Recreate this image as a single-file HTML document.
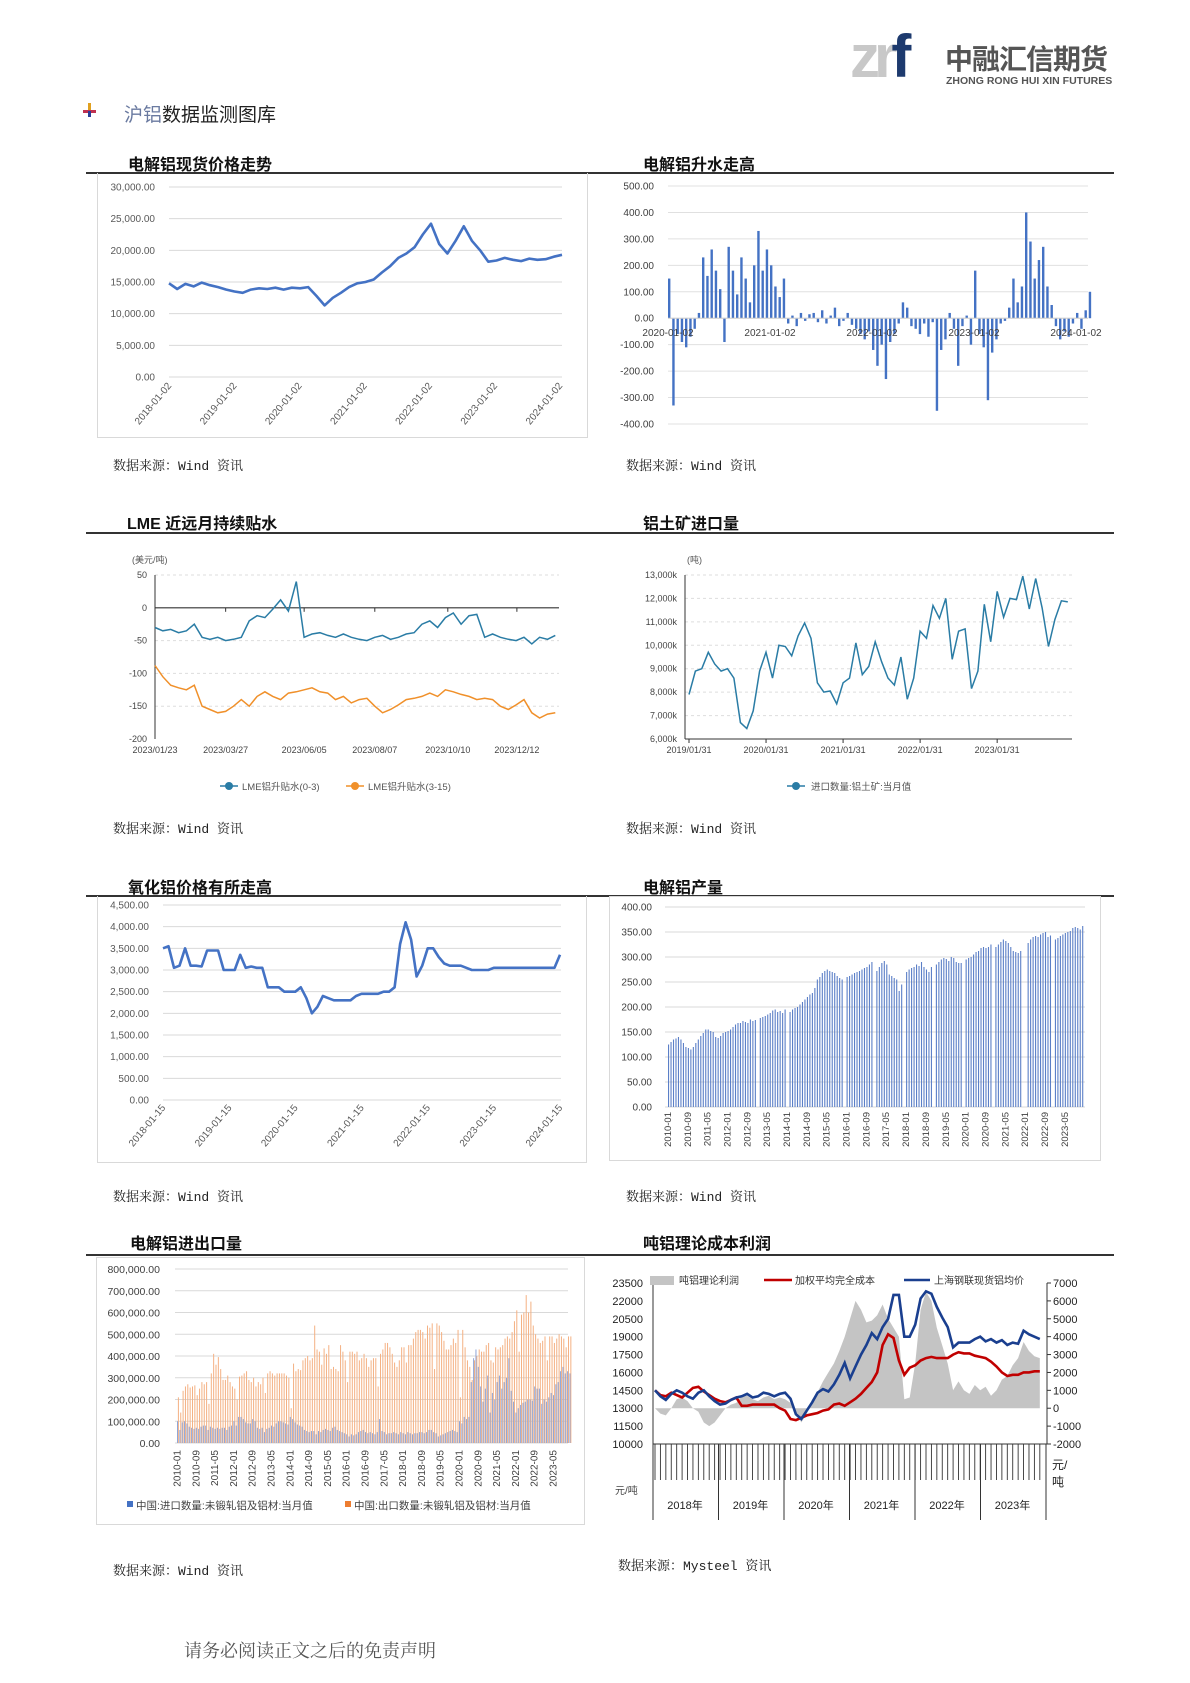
<!DOCTYPE html>
<html><head><meta charset="utf-8">
<style>
body{margin:0;background:#fff;}
#page{position:relative;width:1190px;height:1683px;overflow:hidden;background:#fff;font-family:"Liberation Sans","Noto Sans CJK SC",sans-serif;}
.t{position:absolute;white-space:nowrap;}
.title{font-size:16px;font-weight:bold;color:#111;font-family:"Liberation Sans","Noto Sans CJK SC",sans-serif;}
.src{font-size:13px;color:#222;font-family:"Liberation Mono","Noto Serif CJK SC",serif;}
.rule{position:absolute;height:1.5px;background:#333;}
.box{position:absolute;border:1px solid #d9d9d9;}
</style></head>
<body>
<div id="page">
  <div class="t" style="left:850px;top:22px;font-size:60px;font-weight:bold;letter-spacing:-6px;line-height:70px;"><span style="color:#c8c8c8">zr</span><span style="color:#1d3a6e">f</span></div>
  <div class="t" style="left:945px;top:38px;font-size:28px;font-weight:bold;color:#555;letter-spacing:-1px;font-family:'Liberation Sans','Noto Sans CJK SC',sans-serif;">中融汇信期货</div>
  <div class="t" style="left:946px;top:75px;font-size:10.5px;color:#555;font-weight:bold;">ZHONG RONG HUI XIN FUTURES</div>

  <div class="t" style="left:83px;top:103px;width:12px;height:14px;">
    <div style="position:absolute;left:5px;top:0;width:3px;height:14px;background:#e0a020"></div>
    <div style="position:absolute;left:0;top:7px;width:13px;height:3px;background:#c03050"></div>
    <div style="position:absolute;left:5px;top:8px;width:3px;height:6px;background:#2a3e9a"></div>
  </div>
  <div class="t" style="left:124px;top:100px;font-size:19px;color:#222;"><span style="color:#6a7aa0">沪铝</span>数据监测图库</div>

  <div class="t title" style="left:128px;top:151px;">电解铝现货价格走势</div>
  <div class="t title" style="left:643px;top:151px;">电解铝升水走高</div>
  <div class="rule" style="left:86px;top:172px;width:1028px;"></div>
  <div class="box" style="left:97px;top:173px;width:489px;height:264px;border-top:none;"></div>
  <div class="t src" style="left:113px;top:455px;">数据来源：Wind 资讯</div>
  <div class="t src" style="left:626px;top:455px;">数据来源：Wind 资讯</div>

  <div class="t title" style="left:127px;top:510px;">LME 近远月持续贴水</div>
  <div class="t title" style="left:643px;top:510px;">铝土矿进口量</div>
  <div class="rule" style="left:86px;top:532px;width:1028px;"></div>
  <div class="t src" style="left:113px;top:818px;">数据来源：Wind 资讯</div>
  <div class="t src" style="left:626px;top:818px;">数据来源：Wind 资讯</div>

  <div class="t title" style="left:128px;top:874px;">氧化铝价格有所走高</div>
  <div class="t title" style="left:643px;top:874px;">电解铝产量</div>
  <div class="rule" style="left:86px;top:895px;width:1028px;"></div>
  <div class="box" style="left:97px;top:896px;width:488px;height:266px;border-top:none;"></div>
  <div class="box" style="left:609px;top:896px;width:490px;height:263px;"></div>
  <div class="t src" style="left:113px;top:1186px;">数据来源：Wind 资讯</div>
  <div class="t src" style="left:626px;top:1186px;">数据来源：Wind 资讯</div>

  <div class="t title" style="left:130px;top:1230px;">电解铝进出口量</div>
  <div class="t title" style="left:643px;top:1230px;">吨铝理论成本利润</div>
  <div class="rule" style="left:86px;top:1254px;width:1028px;"></div>
  <div class="box" style="left:96px;top:1257px;width:487px;height:266px;"></div>
  <div class="t src" style="left:113px;top:1560px;">数据来源：Wind 资讯</div>
  <div class="t src" style="left:618px;top:1555px;">数据来源：Mysteel 资讯</div>

  <div class="t" style="left:184px;top:1637px;font-size:18px;color:#555;font-family:'Liberation Serif','Noto Serif CJK SC',serif;">请务必阅读正文之后的免责声明</div>

  <svg id="charts" width="1190" height="1683" style="position:absolute;left:0;top:0;" xmlns="http://www.w3.org/2000/svg"></svg>
</div>
<script>
// ---------- data ----------
const c1Dates=['2018-01-02','2019-01-02','2020-01-02','2021-01-02','2022-01-02','2023-01-02','2024-01-02'];
const c1Ticks=[0,5000,10000,15000,20000,25000,30000];
const c1Values=[14800,13900,14700,14300,14900,14500,14200,13800,13500,13300,13800,14000,13900,14100,13800,14100,14000,14200,12800,11300,12500,13300,14200,14800,15000,15400,16500,17500,18800,19500,20500,22500,24200,21000,19500,21500,23800,21500,20000,18200,18400,18800,18500,18300,18700,18500,18600,19000,19300];

const c2Dates=['2020-01-02','2021-01-02','2022-01-02','2023-01-02','2024-01-02'];
const c2Ticks=[500,400,300,200,100,0,-100,-200,-300,-400];
const c2Values=[150,-330,-60,-90,-110,-70,-40,20,230,160,260,180,110,-90,270,180,90,230,150,60,200,330,180,260,
200,120,80,150,-20,10,-30,20,-10,15,20,-15,30,-20,10,40,-30,-10,20,-25,-40,-60,-80,-50,
-120,-180,-100,-230,-90,-60,-20,60,40,-30,-40,-60,-20,-70,-15,-350,-120,-80,20,-40,-180,-30,10,-100,
180,-60,-110,-310,-130,-80,-20,-10,40,150,60,120,400,290,150,220,270,120,50,-30,-80,-50,-70,-20,
20,-40,30,100];

const c3Dates=['2023/01/23','2023/03/27','2023/06/05','2023/08/07','2023/10/10','2023/12/12'];
const c3DateWeeks=[0,9,19,28,37.3,46.1];
const c3Ticks=[50,0,-50,-100,-150,-200];
const c3Near=[-30,-35,-33,-38,-35,-25,-45,-48,-45,-50,-48,-45,-20,-12,-15,-2,12,-5,40,-45,-40,-38,-42,-45,-40,-45,-48,-50,-45,-42,-48,-45,-40,-38,-25,-20,-30,-15,-8,-25,-12,-10,-45,-40,-45,-48,-50,-45,-55,-45,-48,-42];
const c3Far=[-88,-105,-118,-122,-125,-118,-150,-155,-160,-158,-150,-140,-150,-135,-128,-135,-140,-130,-128,-125,-122,-128,-130,-140,-135,-145,-140,-138,-150,-160,-155,-148,-140,-138,-135,-130,-135,-125,-128,-132,-135,-140,-138,-140,-150,-155,-148,-140,-160,-168,-162,-160];

const c4Dates=['2019/01/31','2020/01/31','2021/01/31','2022/01/31','2023/01/31'];
const c4Ticks=[6000,7000,8000,9000,10000,11000,12000,13000];
const c4Values=[7900,8900,9000,9700,9200,8900,9000,8600,6700,6450,7200,8900,9700,8600,10000,9950,9550,10400,10950,10300,8400,8000,8050,7500,8400,8600,10100,8750,9100,10150,9300,8600,8300,9500,7700,8600,10600,10300,11700,11150,12000,9400,10600,10700,8150,8900,11750,10150,12300,11200,12000,11950,12950,11550,12850,11600,9950,11100,11900,11850];

const c5Dates=['2018-01-15','2019-01-15','2020-01-15','2021-01-15','2022-01-15','2023-01-15','2024-01-15'];
const c5Ticks=[0,500,1000,1500,2000,2500,3000,3500,4000,4500];
const c5Values=[3500,3550,3050,3100,3500,3100,3100,3080,3450,3450,3450,3000,3000,3000,3350,3050,3080,3050,3050,2600,2600,2600,2500,2500,2500,2600,2350,2000,2150,2400,2350,2300,2300,2300,2300,2400,2450,2450,2450,2450,2500,2500,2600,3600,4100,3700,2850,3100,3500,3500,3300,3150,3100,3100,3100,3050,3000,3000,3000,3000,3050,3050,3050,3050,3050,3050,3050,3050,3050,3050,3050,3050,3350];

const monthLabels=['2010-01','2010-09','2011-05','2012-01','2012-09','2013-05','2014-01','2014-09','2015-05','2016-01','2016-09','2017-05','2018-01','2018-09','2019-05','2020-01','2020-09','2021-05','2022-01','2022-09','2023-05'];
const c6Ticks=[0,50,100,150,200,250,300,350,400];
const c6Values=[125,130,135,137,140,135,128,120,118,115,120,128,
135,142,148,155,155,152,150,140,138,142,148,150,
152,155,160,165,168,168,172,170,168,175,172,174,
0,178,180,182,185,188,193,195,190,192,188,195,
0,190,195,198,200,205,210,215,220,225,228,238,
255,260,268,272,275,272,270,268,262,258,255,0,
260,262,265,268,270,272,275,278,280,285,290,0,
272,280,288,292,285,265,262,258,255,232,245,0,
270,275,278,280,285,282,290,280,275,270,280,0,
285,290,295,298,296,292,300,298,290,288,288,0,
295,298,300,305,310,312,318,320,318,320,325,0,
320,325,330,335,332,328,320,312,310,308,312,0,
0,328,335,340,342,340,345,348,350,340,343,0,
335,338,342,345,348,350,352,358,360,358,355,362];

const c7Ticks=[0,100000,200000,300000,400000,500000,600000,700000,800000];
const c7Export=[210,140,240,260,270,255,260,265,220,250,280,270,
280,180,320,410,360,395,340,290,290,310,280,260,
250,200,305,310,320,330,290,280,300,260,280,270,
300,230,320,330,320,310,320,320,320,320,310,300,
160,365,330,340,335,380,390,400,380,390,540,430,
420,360,435,410,450,340,350,340,330,450,420,380,
280,420,420,410,420,380,390,410,390,350,380,390,
390,260,410,430,460,460,440,410,370,350,380,440,
440,370,450,450,480,510,520,520,510,480,540,530,
550,340,550,540,510,470,430,430,450,480,460,520,
210,520,440,380,350,290,380,400,430,420,420,450,
460,380,370,440,430,440,450,480,490,480,510,560,
610,420,590,600,680,600,650,540,500,480,460,470,
490,380,490,490,460,480,500,490,480,440,490,490];
const c7Import=[100,60,95,100,90,75,70,65,70,65,75,80,
80,60,75,70,65,70,65,70,70,60,75,80,
100,80,120,120,110,95,90,90,110,100,70,65,
70,50,65,70,80,75,90,100,100,95,90,85,
120,110,95,85,80,75,60,55,50,55,55,40,
55,50,60,65,60,55,70,75,60,55,50,45,
40,30,40,35,40,50,55,60,50,45,50,45,
40,50,110,55,50,40,45,45,50,45,40,50,
45,40,50,45,40,45,45,50,50,45,50,60,
60,50,45,30,35,40,45,50,55,60,55,50,
100,90,120,110,120,280,390,430,350,260,190,250,
310,140,230,200,280,310,250,280,300,390,240,190,
140,160,175,185,190,200,200,195,260,250,250,180,
200,190,210,230,220,270,280,330,350,320,330,320];

const c8Years=['2018年','2019年','2020年','2021年','2022年','2023年'];
const c8LeftTicks=[10000,11500,13000,14500,16000,17500,19000,20500,22000,23500];
const c8RightTicks=[-2000,-1000,0,1000,2000,3000,4000,5000,6000,7000];
const c8Price=[14500,14000,13700,14200,14500,14300,14000,13800,14300,14500,14000,13600,
13300,13400,13700,13900,14000,14200,13900,14000,14300,14200,14000,14200,
14300,13800,12500,12100,12800,13500,14300,14600,14400,15000,15800,16800,
15500,16500,17500,18300,19300,18800,19800,20500,22500,22500,19000,19000,
20000,22200,22800,22600,21500,20600,19800,18100,18500,18500,18500,18800,
19000,18600,18800,18500,18700,18300,18500,18400,19500,19200,19000,18800];
const c8Cost=[14500,14100,14000,14300,14100,13900,14300,14700,14800,14400,14100,13800,
13600,13500,13700,13900,13200,13200,13300,13300,13300,13300,13300,13000,
12800,12100,12000,12200,12400,12500,12600,12800,12900,13300,13400,13200,
13500,13800,14200,14700,15200,16000,18300,19200,18900,17000,15800,16400,
16600,17000,17200,17300,17200,17200,17200,17500,17700,17600,17600,17400,
17300,17200,16900,16500,16000,15700,15800,15800,16000,16000,16100,16100];
const c8Profit=[0,-300,-400,0,500,600,400,0,-200,-800,-1000,-800,
-400,0,200,300,700,700,500,400,600,700,500,600,
500,300,-200,-800,-300,500,900,1500,2000,2500,3200,4000,
5000,6000,5500,4800,4900,5200,5800,5000,4500,4000,500,600,
2500,5500,6500,6000,4500,3500,2500,1000,1500,1000,800,1300,
1000,1200,700,1000,1600,1800,2400,2800,3700,3200,2900,2800];

// ---------- helpers ----------
const NS='http://www.w3.org/2000/svg';
const svg=document.getElementById('charts');
function mk(tag,attrs){const e=document.createElementNS(NS,tag);for(const k in attrs)e.setAttribute(k,attrs[k]);svg.appendChild(e);return e;}
function txt(x,y,s,attrs){const e=mk('text',Object.assign({x:x,y:y,'font-family':'Liberation Sans, Noto Sans CJK SC, sans-serif'},attrs));e.textContent=s;return e;}
function lin(d0,d1,r0,r1){return v=>r0+(v-d0)*(r1-r0)/(d1-d0);}
function fmt(v,dec){return v.toLocaleString('en-US',{minimumFractionDigits:dec,maximumFractionDigits:dec});}
function pathOf(vals,xf,yf){return vals.map((v,i)=>(i?'L':'M')+xf(i).toFixed(1)+','+yf(v).toFixed(1)).join('');}

// ---------- chart 1 ----------
{
const y=lin(0,30000,377,187), x=lin(0,c1Values.length-1,169,562), xd=lin(0,c1Dates.length-1,169,560);
c1Ticks.forEach(t=>{
  const g=mk('line',{x1:169,x2:562,y1:y(t),y2:y(t),stroke:'#d9d9d9','stroke-width':1});
  
  
  const l=txt(155,y(t)+3.5,fmt(t,2),{'font-size':10,fill:'#595959','text-anchor':'end'});
  
  
});
c1Dates.forEach((d,i)=>{
  const l=txt(xd(i)+3,386,d,{'font-size':10,fill:'#595959','text-anchor':'end',transform:'rotate(-50 '+(xd(i)+3)+' 386)'});
  
  
});
const p=mk('path',{d:pathOf(c1Values,x,y),fill:'none',stroke:'#4472c4','stroke-width':2.6,'stroke-linejoin':'round'});


}

// ---------- chart 2 ----------
{
const y=lin(-400,500,424,186), x=i=>668+i*4.25, xd=lin(0,4,668,1076);
c2Ticks.forEach(t=>{
  const g=mk('line',{x1:668,x2:1088,y1:y(t),y2:y(t),stroke:'#e0e0e0','stroke-width':1});
  
  
  const l=txt(654,y(t)+3.5,fmt(t,2),{'font-size':10,fill:'#404040','text-anchor':'end'});
  
  
});
c2Values.forEach((v,i)=>{
  const b=mk('rect',{x:x(i),y:Math.min(y(v),y(0)),width:2.4,height:Math.abs(y(v)-y(0)),fill:'#4472c4'});
  
  
});
const z=mk('line',{x1:668,x2:1088,y1:y(0),y2:y(0),stroke:'#d0d0d0','stroke-width':1});


c2Dates.forEach((d,i)=>{
  const l=txt(xd(i),336,d,{'font-size':10,fill:'#404040','text-anchor':'middle'});
  
  
});
}

// ---------- chart 3 ----------
{
const y=lin(-200,50,739,575), x=w=>155+w*7.85;
const u=txt(132,563,'(美元/吨)',{'font-size':9,fill:'#555'});


c3Ticks.forEach(t=>{
  if(t!==0&&t!==-200){const g=mk('line',{x1:155,x2:559,y1:y(t),y2:y(t),stroke:'#ddd','stroke-dasharray':'3,3'});
  
  }
  const l=txt(147,y(t)+3,String(t),{'font-size':9,fill:'#444','text-anchor':'end'});
  
  
});
const za=mk('line',{x1:155,x2:559,y1:y(0),y2:y(0),stroke:'#333','stroke-width':1.2});


const ya=mk('line',{x1:155,x2:155,y1:575,y2:739,stroke:'#333','stroke-width':1});


c3Dates.forEach((d,i)=>{
  const tk=mk('line',{x1:x(c3DateWeeks[i]),x2:x(c3DateWeeks[i]),y1:y(0),y2:y(0)+4,stroke:'#333'});
  
  
  const l=txt(x(c3DateWeeks[i]),753,d,{'font-size':9,fill:'#444','text-anchor':'middle'});
  
  
});
const p1=mk('path',{d:pathOf(c3Near,x,y),fill:'none',stroke:'#2a7ca5','stroke-width':1.5});


const p2=mk('path',{d:pathOf(c3Far,x,y),fill:'none',stroke:'#f0902a','stroke-width':1.5});


[['#2a7ca5','LME铝升贴水(0-3)',220],['#f0902a','LME铝升贴水(3-15)',346]].forEach(e=>{
  const ln=mk('line',{x1:e[2],x2:e[2]+18,y1:786,y2:786,stroke:e[0],'stroke-width':1.5});
  
  
  const c=mk('circle',{cx:e[2]+9,cy:786,r:4,fill:e[0]});
  
  
  const l=txt(e[2]+22,790,e[1],{'font-size':9.5,fill:'#555'});
  
  
});
}

// ---------- chart 4 ----------
{
const y=lin(6000,13000,739,575), x=m=>689+m*6.42;
const u=txt(687,563,'(吨)',{'font-size':9,fill:'#555'});


c4Ticks.forEach(t=>{
  if(t!==6000){const g=mk('line',{x1:685,x2:1072,y1:y(t),y2:y(t),stroke:'#ddd','stroke-dasharray':'3,3'});
  
  }
  const l=txt(677,y(t)+3,fmt(t/1000,0)+',000k',{'font-size':9,fill:'#444','text-anchor':'end'});
  
  
});
const xa=mk('line',{x1:685,x2:1072,y1:739,y2:739,stroke:'#333'});


const ya=mk('line',{x1:685,x2:685,y1:575,y2:739,stroke:'#333'});


c4Dates.forEach((d,i)=>{
  const tk=mk('line',{x1:x(i*12),x2:x(i*12),y1:739,y2:743,stroke:'#333'});
  
  
  const l=txt(x(i*12),753,d,{'font-size':9,fill:'#444','text-anchor':'middle'});
  
  
});
const p=mk('path',{d:pathOf(c4Values,x,y),fill:'none',stroke:'#2a7ca5','stroke-width':1.5});


const ln=mk('line',{x1:787,x2:805,y1:786,y2:786,stroke:'#2a7ca5','stroke-width':1.5});


const c=mk('circle',{cx:796,cy:786,r:4,fill:'#2a7ca5'});


const l=txt(811,790,'进口数量:铝土矿:当月值',{'font-size':9.5,fill:'#555'});


}

// ---------- chart 5 ----------
{
const y=lin(0,4500,1100,905), x=lin(0,c5Values.length-1,163,560), xd=lin(0,6,163,560);
c5Ticks.forEach(t=>{
  const g=mk('line',{x1:163,x2:561,y1:y(t),y2:y(t),stroke:'#d9d9d9'});
  
  
  const l=txt(149,y(t)+3.5,fmt(t,2),{'font-size':10,fill:'#595959','text-anchor':'end'});
  
  
});
c5Dates.forEach((d,i)=>{
  const l=txt(xd(i)+3,1108,d,{'font-size':10,fill:'#595959','text-anchor':'end',transform:'rotate(-50 '+(xd(i)+3)+' 1108)'});
  
  
});
const p=mk('path',{d:pathOf(c5Values,x,y),fill:'none',stroke:'#4472c4','stroke-width':2.6,'stroke-linejoin':'round'});


}

// ---------- chart 6 ----------
{
const y=lin(0,400,1107,907), x=i=>668+i*2.48;
c6Ticks.forEach(t=>{
  const g=mk('line',{x1:665,x2:1085,y1:y(t),y2:y(t),stroke:'#d9d9d9'});
  
  
  const l=txt(652,y(t)+3.5,fmt(t,2),{'font-size':10,fill:'#404040','text-anchor':'end'});
  
  
});
c6Values.forEach((v,i)=>{
  if(!v)return;
  const b=mk('rect',{x:x(i),y:y(v),width:1.1,height:y(0)-y(v),fill:'#5b7fc7'});
  
  
});
monthLabels.forEach((d,i)=>{
  const xx=x(i*8)+3;
  const l=txt(xx,1112,d,{'font-size':9.5,fill:'#404040','text-anchor':'end',transform:'rotate(-90 '+xx+' 1112)'});
  
  
});
}

// ---------- chart 7 ----------
{
const y=lin(0,800000,1443,1269), x=i=>177+i*2.35;
c7Ticks.forEach(t=>{
  const g=mk('line',{x1:175,x2:568,y1:y(t),y2:y(t),stroke:'#d9d9d9'});
  
  
  const l=txt(160,y(t)+4,fmt(t,2),{'font-size':10.5,fill:'#404040','text-anchor':'end'});
  
  
});
c7Export.forEach((v,i)=>{
  const b=mk('rect',{x:x(i)+0.9,y:y(v*1000),width:1,height:y(0)-y(v*1000),fill:'#f4b183'});
  
  
});
c7Import.forEach((v,i)=>{
  const b=mk('rect',{x:x(i),y:y(v*1000),width:1,height:y(0)-y(v*1000),fill:'#8fa6d8'});
  
  
});
monthLabels.forEach((d,i)=>{
  const xx=x(i*8)+3.5;
  const l=txt(xx,1450,d,{'font-size':10,fill:'#404040','text-anchor':'end',transform:'rotate(-90 '+xx+' 1450)'});
  
  
});
[['#4472c4','中国:进口数量:未锻轧铝及铝材:当月值',127],['#ed7d31','中国:出口数量:未锻轧铝及铝材:当月值',345]].forEach(e=>{
  const s=mk('rect',{x:e[2],y:1501,width:6,height:6,fill:e[0]});
  
  
  const l=txt(e[2]+9,1509,e[1],{'font-size':10.5,fill:'#404040'});
  
  
});
}

// ---------- chart 8 ----------
{
const yL=lin(10000,23500,1444,1283), yR=lin(-2000,7000,1444,1283), x=i=>655+i*5.42;
const area='M'+x(0)+','+yR(0)+c8Profit.map((v,i)=>'L'+x(i).toFixed(1)+','+yR(v).toFixed(1)).join('')+'L'+x(c8Profit.length-1)+','+yR(0)+'Z';
const a=mk('path',{d:area,fill:'#c4c4c4'});


c8LeftTicks.forEach(t=>{
  const l=txt(643,yL(t)+4,String(t),{'font-size':11,fill:'#222','text-anchor':'end'});
  
  
});
c8RightTicks.forEach(t=>{
  const tk=mk('line',{x1:1047,x2:1051,y1:yR(t),y2:yR(t),stroke:'#333'});
  
  
  const l=txt(1053,yR(t)+4,String(t),{'font-size':11,fill:'#222'});
  
  
});
const la=mk('line',{x1:653,x2:653,y1:1283,y2:1520,stroke:'#333'});


const ra=mk('line',{x1:1047,x2:1047,y1:1283,y2:1444,stroke:'#333'});


const xa=mk('line',{x1:653,x2:1047,y1:1444,y2:1444,stroke:'#333'});


c8Price.forEach((v,i)=>{
  const tk=mk('line',{x1:x(i),x2:x(i),y1:1444,y2:1480,stroke:'#333','stroke-width':0.9});
  
  
});
c8Years.forEach((d,i)=>{
  const sx=653+i*65.5;
  const s=mk('line',{x1:sx+65.5,x2:sx+65.5,y1:1444,y2:1520,stroke:'#333'});
  
  
  const l=txt(sx+32,1509,d,{'font-size':11,fill:'#222','text-anchor':'middle'});
  
  
});
const p1=mk('path',{d:pathOf(c8Cost,x,yL),fill:'none',stroke:'#c00000','stroke-width':2.6});


const p2=mk('path',{d:pathOf(c8Price,x,yL),fill:'none',stroke:'#1a3f8f','stroke-width':2.6});


const u1=txt(615,1494,'元/吨',{'font-size':10,fill:'#444'});


const u2=txt(1052,1469,'元/',{'font-size':12,fill:'#222'});


const u3=txt(1052,1486,'吨',{'font-size':12,fill:'#222'});


const lg1=mk('rect',{x:650,y:1276,width:24,height:9,fill:'#c4c4c4'});


const lt1=txt(679,1284,'吨铝理论利润',{'font-size':10,fill:'#333'});


const lg2=mk('line',{x1:764,x2:792,y1:1280,y2:1280,stroke:'#c00000','stroke-width':2.5});


const lt2=txt(795,1284,'加权平均完全成本',{'font-size':10,fill:'#333'});


const lg3=mk('line',{x1:904,x2:930,y1:1280,y2:1280,stroke:'#1a3f8f','stroke-width':2.5});


const lt3=txt(934,1284,'上海钢联现货铝均价',{'font-size':10,fill:'#333'});


}
</script>
</body></html>
